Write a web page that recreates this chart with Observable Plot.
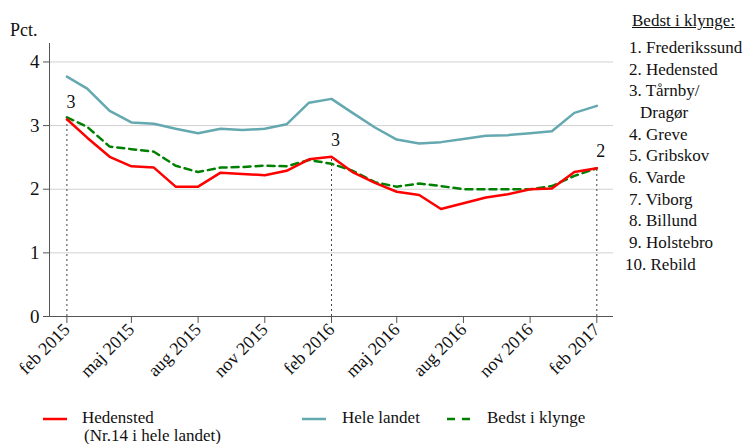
<!DOCTYPE html>
<html><head><meta charset="utf-8">
<script src="https://cdn.jsdelivr.net/npm/d3@7"></script>
<script src="https://cdn.jsdelivr.net/npm/@observablehq/plot@0.6"></script>
<style>
body{margin:0;background:#fff;font-family:"Liberation Serif",serif;color:#111}
#wrap{position:relative;width:744px;height:444px;overflow:hidden}
#wrap svg.plot{position:absolute;left:0;top:0}
.abs{position:absolute;white-space:nowrap;font-size:17px;line-height:15px}
</style></head><body><div id="wrap"></div>
<script>
const months = ["2015-02","2015-03","2015-04","2015-05","2015-06","2015-07","2015-08","2015-09","2015-10","2015-11","2015-12",
  "2016-01","2016-02","2016-03","2016-04","2016-05","2016-06","2016-07","2016-08","2016-09","2016-10","2016-11","2016-12",
  "2017-01","2017-02"];
const hedensted = [3.10,2.81,2.51,2.36,2.34,2.04,2.04,2.26,2.24,2.22,2.29,2.47,2.51,2.27,2.10,1.96,1.91,1.69,1.78,1.87,1.92,2.00,2.01,2.27,2.33];
const heleLandet = [3.77,3.58,3.23,3.05,3.03,2.95,2.88,2.95,2.93,2.95,3.02,3.36,3.42,3.20,2.97,2.78,2.72,2.74,2.79,2.84,2.85,2.88,2.91,3.20,3.31];
const bedstIKlynge = [3.13,2.98,2.67,2.63,2.59,2.37,2.27,2.34,2.35,2.37,2.36,2.46,2.40,2.29,2.11,2.04,2.09,2.05,2.00,2.00,2.00,2.00,2.05,2.21,2.33];
const tickMonths = ["2015-02","2015-05","2015-08","2015-11","2016-02","2016-05","2016-08","2016-11","2017-02"];
const tickLabels = ["feb 2015","maj 2015","aug 2015","nov 2015","feb 2016","maj 2016","aug 2016","nov 2016","feb 2017"];
const yTicks = [0,1,2,3,4];
const annMonths = ["2015-02","2016-02","2017-02"];
const annRanks = ["3","3","2"];
const clusterTitle = "Bedst i klynge:";
const clusterList = ["1. Frederikssund","2. Hedensted","3. Tårnby/","Dragør","4. Greve","5. Gribskov","6. Varde","7. Viborg","8. Billund","9. Holstebro","10. Rebild"];
const seriesNames = ["Hedensted","Hele landet","Bedst i klynge"];
const seriesNote = "(Nr.14 i hele landet)";
const colors = {hed:"#ff0000", hele:"#64a8b0", bedst:"#008000"};

const parse = d3.utcParse("%Y-%m");
const rows = months.map((m,i)=>({date:parse(m), hed:hedensted[i], hele:heleLandet[i], bedst:bedstIKlynge[i]}));
const labelMap = new Map(tickMonths.map((m,i)=>[+parse(m), tickLabels[i]]));
const ann = annMonths.map((m,i)=>({date:parse(m), value:hedensted[months.indexOf(m)], rank:annRanks[i]}));
const xDomain = [new Date(Date.UTC(2015,0,8)), new Date(Date.UTC(2017,1,24))];

const chart = Plot.plot({
  width:744, height:400, marginLeft:49, marginRight:131, marginTop:43, marginBottom:84,
  style:{fontFamily:"Liberation Serif", fontSize:"17px", color:"#111", background:"transparent"},
  x:{type:"utc", domain:xDomain},
  y:{domain:[0,4.29]},
  marks:[
    Plot.gridY([1,2,3,4], {stroke:"#d0d0d0", strokeOpacity:1}),
    Plot.ruleY([0], {stroke:"#555"}),
    Plot.ruleX([xDomain[0]], {stroke:"#555"}),
    Plot.axisY(yTicks, {tickSize:6, tickPadding:4, stroke:"#555", fontSize:19, label:null, tickFormat:d=>String(d)}),
    Plot.axisX(tickMonths.map(parse), {tickSize:7, tickRotate:-45, tickPadding:3, stroke:"#555", fontSize:18, label:null, tickFormat:d=>labelMap.get(+d)}),
    Plot.ruleX(ann, {x:"date", y1:0, y2:"value", stroke:"#444", strokeDasharray:"2,3"}),
    Plot.line(rows, {x:"date", y:"hele", stroke:colors.hele, strokeWidth:2.5}),
    Plot.line(rows, {x:"date", y:"bedst", stroke:colors.bedst, strokeWidth:2.5, strokeDasharray:"7,5"}),
    Plot.line(rows, {x:"date", y:"hed", stroke:colors.hed, strokeWidth:2.5}),
    Plot.text(ann, {x:"date", y:"value", text:"rank", dy:-17, dx:4, fill:"#111", fontSize:18})
  ]
});
chart.classList.add("plot");
const wrap = document.getElementById("wrap");
wrap.appendChild(chart);

function addText(txt, left, centerY, extra){
  const d = document.createElement("div");
  d.className = "abs";
  d.textContent = txt;
  d.style.left = left + "px";
  d.style.top = (centerY - 8) + "px";
  if (extra) Object.assign(d.style, extra);
  wrap.appendChild(d);
}
addText("Pct.", 10, 31, {fontSize:"18px"});
addText(clusterTitle, 632, 21, {textDecoration:"underline"});
clusterList.forEach((t,i)=>{
  let left = 629;
  if (t === "Dragør") left = 640;
  if (t.startsWith("10.")) left = 625;
  addText(t, left, 48 + i*21.65);
});
// legend
const lg = d3.select(wrap).append("svg").attr("width",744).attr("height",444)
  .style("position","absolute").style("left","0px").style("top","0px").style("pointer-events","none");
lg.append("line").attr("x1",43).attr("x2",67).attr("y1",419).attr("y2",419).attr("stroke",colors.hed).attr("stroke-width",2.5);
lg.append("line").attr("x1",302).attr("x2",326).attr("y1",419).attr("y2",419).attr("stroke",colors.hele).attr("stroke-width",2.5);
lg.append("line").attr("x1",447).attr("x2",470).attr("y1",419).attr("y2",419).attr("stroke",colors.bedst).attr("stroke-width",2.5).attr("stroke-dasharray","8,7");
addText(seriesNames[0], 82, 418);
addText(seriesNote, 84, 436);
addText(seriesNames[1], 342, 418);
addText(seriesNames[2], 487, 418);
</script></body></html>
